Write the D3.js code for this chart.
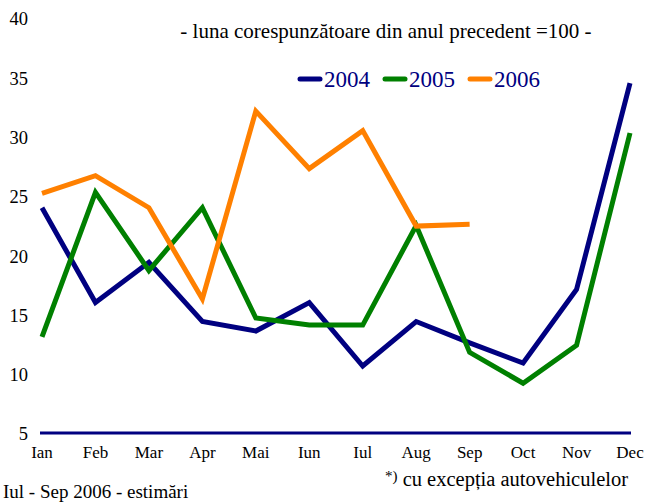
<!DOCTYPE html>
<html><head><meta charset="utf-8">
<script src="https://cdn.jsdelivr.net/npm/d3@7"></script>
<style>body{margin:0;background:#fff}svg{display:block}</style>
</head><body><svg id="c" width="646" height="503" font-family="Liberation Serif, Times New Roman, DejaVu Serif, serif"></svg>
<script>
const months=["Ian","Feb","Mar","Apr","Mai","Iun","Iul","Aug","Sep","Oct","Nov","Dec"];
const years=["2004","2005","2006"];
const s2004=[24.0,16.0,19.4,14.4,13.6,16.0,10.65,14.4,12.6,10.9,17.1,34.5];
const s2005=[13.1,25.3,18.7,24.0,14.7,14.1,14.1,22.5,11.8,9.2,12.4,30.3];
const s2006=[25.2,26.7,24.0,16.3,32.15,27.3,30.5,22.45,22.6];
const yTicks=[5,10,15,20,25,30,35,40];
const colors=["#000080","#008000","#FF8000"];
const series=[s2004,s2005,s2006];

const svg=d3.select("#c");
const x=d3.scalePoint().domain(months).range([42,630]);
const y=d3.scaleLinear().domain([5,40]).range([433,18]);

svg.append("g").selectAll("text").data(yTicks).join("text")
  .attr("x",28).attr("y",d=>y(d)+1).attr("dy","0.35em").attr("text-anchor","end")
  .attr("font-size",18.5).attr("fill","#000").text(d=>d);

svg.append("line").attr("x1",40).attr("x2",631).attr("y1",y(5)).attr("y2",y(5))
  .attr("stroke","#000080").attr("stroke-width",3);

svg.append("g").selectAll("text").data(months).join("text")
  .attr("x",d=>x(d)).attr("y",458).attr("text-anchor","middle")
  .attr("font-size",17).attr("fill","#000").text(d=>d);

const line=d3.line().x((d,i)=>x(months[i])).y(d=>y(d));
series.forEach((s,k)=>{
  svg.append("path").datum(s).attr("d",line).attr("fill","none")
    .attr("stroke",colors[k]).attr("stroke-width",5).attr("stroke-linejoin","miter");
});

svg.append("text").attr("x",386).attr("y",31).attr("dy","0.35em").attr("text-anchor","middle")
  .attr("font-size",21).attr("fill","#000").text("- luna corespunzătoare din anul precedent =100 -");

const lx=[298,383,468];
years.forEach((yr,k)=>{
  svg.append("line").attr("x1",lx[k]+2).attr("x2",lx[k]+22).attr("y1",79).attr("y2",79)
    .attr("stroke",colors[k]).attr("stroke-width",5).attr("stroke-linecap","round");
  svg.append("text").attr("x",lx[k]+26).attr("y",79).attr("dy","0.35em")
    .attr("font-size",23).attr("fill","#000080").text(yr);
});

const fn=svg.append("text").attr("x",385).attr("y",486).attr("font-size",20.5).attr("fill","#000");
fn.append("tspan").attr("font-size",15).attr("dy",-5).text("*)");
fn.append("tspan").attr("dy",5).text(" cu excepția autovehiculelor");
svg.append("text").attr("x",3).attr("y",498).attr("font-size",19).attr("fill","#000").text("Iul - Sep 2006 - estimări");
</script></body></html>
